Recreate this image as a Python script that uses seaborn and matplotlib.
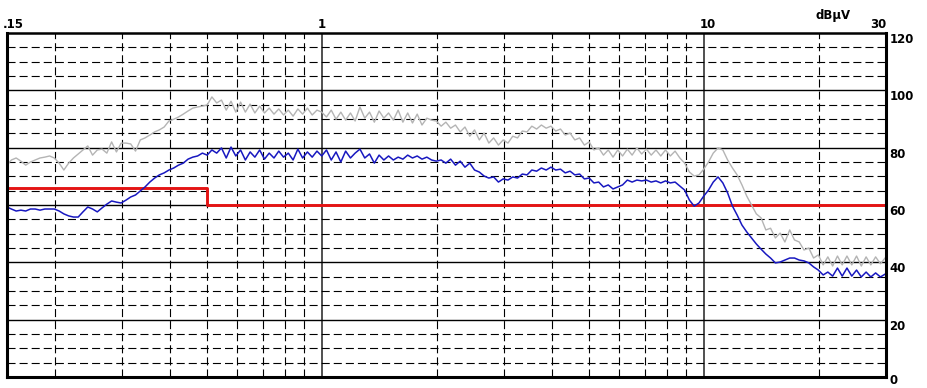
import matplotlib
matplotlib.use("Agg")
import matplotlib.pyplot as plt
from matplotlib.ticker import NullLocator, NullFormatter
from matplotlib.transforms import ScaledTranslation
import pandas as pd
import seaborn as sns

# ---------------- data ----------------
# receiver sweep: one decade split into 80 log steps (mantissas)
mantissa = [1.000, 1.029, 1.059, 1.090, 1.122, 1.155, 1.189, 1.223, 1.259, 1.296,
            1.334, 1.373, 1.413, 1.454, 1.496, 1.540, 1.585, 1.631, 1.679, 1.728,
            1.778, 1.830, 1.884, 1.939, 1.995, 2.054, 2.113, 2.175, 2.239, 2.304,
            2.371, 2.441, 2.512, 2.585, 2.661, 2.738, 2.818, 2.901, 2.985, 3.073,
            3.162, 3.255, 3.350, 3.447, 3.548, 3.652, 3.758, 3.868, 3.981, 4.097,
            4.217, 4.340, 4.467, 4.597, 4.732, 4.870, 5.012, 5.158, 5.309, 5.464,
            5.623, 5.788, 5.957, 6.131, 6.310, 6.494, 6.683, 6.879, 7.080, 7.286,
            7.499, 7.718, 7.943, 8.175, 8.414, 8.660, 8.913, 9.173, 9.441, 9.716]

freq_mhz = ([0.15] + [round(m / 10, 5) for m in mantissa[15:]]
            + list(mantissa)
            + [round(m * 10, 3) for m in mantissa[:39]] + [30.0])

peak_dbuv = [
    # 0.15 - 1 MHz
    73.9, 75.7, 76.4, 75.3, 73.9, 75.0, 75.7, 76.4, 76.7, 77.1,
    76.4, 74.6, 72.2, 74.6, 76.4, 77.8, 79.2, 80.6, 77.4, 79.2,
    79.5, 78.1, 82.0, 78.5, 81.6, 81.6, 81.3, 78.8, 82.7, 83.4,
    84.4, 85.5, 86.2, 87.2, 89.3, 89.9, 90.7, 91.7, 92.8, 93.8,
    94.2, 94.5, 94.9, 97.7, 95.6, 96.6, 93.1, 96.2, 92.4, 95.9,
    92.4, 95.2, 92.1, 94.5, 92.1, 93.8, 91.7, 93.5, 91.4, 93.1,
    91.0, 93.5, 91.7, 93.8, 91.4, 93.1,
    # 1 - 10 MHz
    92.4, 90.7, 93.1, 89.9, 92.4, 89.6, 92.1, 89.3, 94.2, 90.3,
    92.4, 88.9, 92.8, 90.3, 92.1, 89.6, 93.1, 88.9, 92.1, 88.6,
    91.7, 87.9, 90.3, 89.6, 89.3, 87.5, 88.9, 86.8, 87.9, 85.5,
    87.2, 84.0, 86.2, 82.7, 85.1, 81.6, 83.4, 80.9, 82.7, 81.6,
    84.0, 83.4, 85.8, 85.5, 87.5, 86.5, 87.9, 86.8, 87.5, 85.8,
    86.5, 84.4, 85.1, 82.7, 83.4, 80.9, 82.0, 79.2, 79.9, 77.4,
    79.2, 76.7, 79.2, 77.1, 79.5, 77.4, 79.9, 77.8, 79.5, 77.4,
    79.2, 77.1, 79.2, 77.1, 78.8, 76.4, 74.6, 71.5, 70.1, 70.5,
    # 10 - 30 MHz
    72.5, 75.0, 78.1, 79.9, 79.2, 75.7, 72.9, 70.5, 67.0, 63.1,
    60.0, 56.9, 55.5, 51.3, 51.9, 48.5, 50.2, 47.1, 51.3, 47.8,
    47.1, 44.3, 45.0, 41.5, 42.6, 39.1, 41.9, 38.7, 42.2, 39.1,
    42.2, 39.1, 42.2, 38.7, 41.9, 39.1, 41.9, 39.5, 41.5, 41.9]

avg_dbuv = [
    # 0.15 - 1 MHz
    59.3, 58.6, 57.9, 58.2, 57.9, 58.6, 58.6, 58.2, 58.6, 58.6,
    58.6, 57.9, 56.9, 56.2, 55.8, 55.8, 57.6, 59.3, 58.6, 57.6,
    59.0, 60.3, 61.4, 61.0, 60.7, 61.7, 62.8, 63.5, 64.9, 66.3,
    68.0, 69.4, 70.5, 71.2, 72.2, 72.9, 73.9, 74.6, 76.0, 76.7,
    77.1, 78.1, 77.4, 79.2, 78.1, 79.9, 76.4, 80.2, 77.1, 79.2,
    75.7, 78.5, 76.7, 79.2, 76.0, 78.1, 76.4, 78.8, 76.7, 78.1,
    75.7, 79.5, 76.4, 78.5, 76.7, 78.8,
    # 1 - 10 MHz
    77.1, 79.2, 75.7, 78.5, 75.0, 78.8, 76.4, 78.1, 79.5, 76.4,
    77.8, 74.6, 77.4, 75.7, 77.1, 75.7, 76.7, 76.0, 77.4, 76.4,
    77.1, 76.0, 76.7, 75.7, 75.3, 75.7, 74.6, 76.0, 73.9, 75.3,
    73.2, 74.6, 72.2, 71.5, 70.1, 69.4, 69.8, 68.0, 69.1, 68.7,
    69.8, 69.4, 70.8, 70.5, 72.2, 71.8, 72.9, 72.2, 73.2, 72.2,
    72.5, 71.2, 71.8, 70.5, 70.8, 69.1, 69.4, 67.7, 68.0, 66.3,
    67.0, 65.6, 66.3, 67.0, 68.7, 68.0, 68.7, 68.4, 68.7, 68.0,
    68.4, 67.7, 68.4, 67.7, 68.0, 66.6, 65.2, 61.7, 59.6, 60.7,
    # 10 - 30 MHz
    63.1, 65.2, 68.0, 69.8, 67.7, 64.2, 59.6, 56.5, 53.0, 50.6,
    48.5, 46.4, 44.6, 42.9, 41.5, 39.8, 40.1, 40.8, 41.5, 41.5,
    40.8, 40.5, 39.8, 38.4, 37.3, 35.6, 36.6, 35.2, 38.0, 35.2,
    38.0, 35.2, 37.3, 34.9, 36.6, 34.9, 36.3, 34.9, 35.9, 35.6]

limit_freq_mhz = [0.15, 0.5, 30.0]
limit_dbuv = [66, 60, 60]

minor_freqs = [0.2, 0.3, 0.4, 0.5, 0.6, 0.7, 0.8, 0.9,
               2, 3, 4, 5, 6, 7, 8, 9, 20]
major_freqs = [1, 10]
top_tick_freqs = [0.15, 1, 10, 30]
top_tick_labels = [".15", "1", "10", "30"]
y_major = [20, 40, 60, 80, 100]
y_minor = [5, 10, 15, 25, 30, 35, 45, 50, 55, 65, 70, 75, 85, 90, 95, 105, 110, 115]
y_ticks = [0, 20, 40, 60, 80, 100, 120]
y_tick_labels = ["0", "20", "40", "60", "80", "100", "120"]
unit_label = "dB\u00b5V"

# ---------------- figure ----------------
sns.set_style("white")
plt.rcParams['font.family'] = ['DejaVu Sans']
plt.rcParams['lines.scale_dashes'] = False

W, H = 927, 388
fig = plt.figure(figsize=(W / 100, H / 100), dpi=100)
fig.patch.set_facecolor("white")
ax = fig.add_axes([7 / W, 11 / H, 879 / W, 344 / H])

df = pd.DataFrame({"freq": freq_mhz, "peak": peak_dbuv, "avg": avg_dbuv})
lim = pd.DataFrame({"freq": limit_freq_mhz, "limit": limit_dbuv})

dash = (0, (5.8, 2.9))
for f in minor_freqs:
    ax.axvline(f, color="black", lw=0.8, ls=dash, zorder=1)
for f in major_freqs:
    ax.axvline(f, color="#505050", lw=1.4, zorder=1)
for v in y_minor:
    ax.axhline(v, color="black", lw=0.8, ls=dash, zorder=1)
for v in y_major:
    ax.axhline(v, color="black", lw=1.0, zorder=1)

sns.lineplot(data=lim, x="freq", y="limit", ax=ax, color="#e41414", lw=2.1,
             drawstyle="steps-post", estimator=None, zorder=2)
sns.lineplot(data=df, x="freq", y="peak", ax=ax, color="#b4b4b4", lw=1.0,
             estimator=None, sort=False, zorder=3)
sns.lineplot(data=df, x="freq", y="avg", ax=ax, color="#1818c0", lw=1.1,
             estimator=None, sort=False, zorder=4)

ax.set_xscale("log")
ax.set_xlim(0.15, 30)
ax.set_ylim(0, 120)
ax.set_xlabel("")
ax.set_ylabel("")

ax.xaxis.set_minor_locator(NullLocator())
ax.xaxis.set_minor_formatter(NullFormatter())
ax.set_xticks(top_tick_freqs, labels=top_tick_labels)
ax.set_yticks(y_ticks, labels=y_tick_labels)
ax.tick_params(axis="x", which="both", top=True, bottom=False, labeltop=True,
               labelbottom=False, length=0, pad=1.5, labelsize=8.5)
ax.tick_params(axis="y", which="both", left=False, right=True, labelleft=False,
               labelright=True, length=0, pad=2.5, labelsize=8.5)

for lbl in ax.get_xticklabels() + ax.get_yticklabels():
    lbl.set_fontweight("bold")
    lbl.set_color("black")

xl = ax.get_xticklabels()
xl[0].set_ha("left")
xl[0].set_transform(xl[0].get_transform() + ScaledTranslation(-4 / 100, 0, fig.dpi_scale_trans))
xl[2].set_transform(xl[2].get_transform() + ScaledTranslation(4 / 100, 0, fig.dpi_scale_trans))
xl[3].set_ha("right")
yl = ax.get_yticklabels()
for i, lbl in enumerate(yl):
    shift = -2.5 if i == 0 else -5
    lbl.set_transform(lbl.get_transform() + ScaledTranslation(0, shift / 100, fig.dpi_scale_trans))

fig.text(833 / W, 1 - 15 / H, unit_label, ha="center", va="center",
         fontsize=8.5, fontweight="bold", color="black")

for side, lw in (("left", 2.2), ("bottom", 2.2), ("top", 1.8), ("right", 2.2)):
    ax.spines[side].set_visible(True)
    ax.spines[side].set_linewidth(lw)
    ax.spines[side].set_color("black")
    ax.spines[side].set_zorder(6)

fig.savefig("out.png", dpi=100, facecolor="white")
